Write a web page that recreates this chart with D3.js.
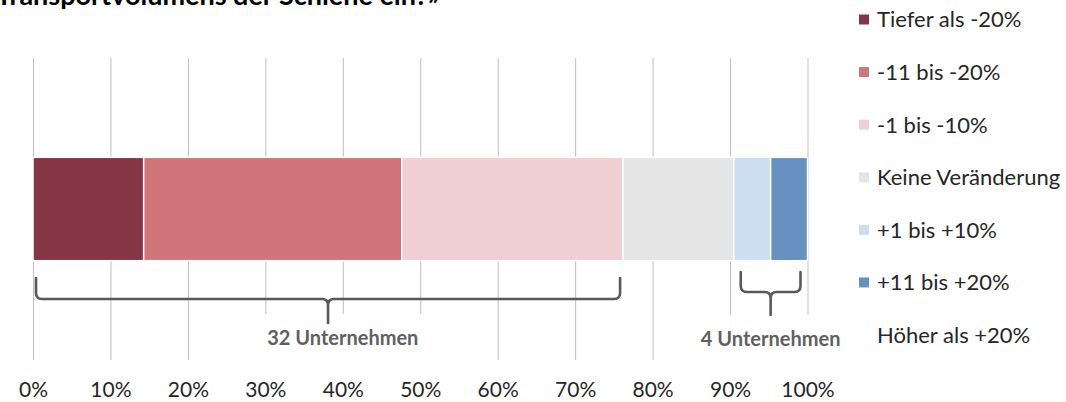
<!DOCTYPE html>
<html>
<head>
<meta charset="utf-8">
<script src="https://cdn.jsdelivr.net/npm/d3@7"></script>
<style>
  html, body { margin: 0; padding: 0; background: #fff; }
  svg { display: block; font-family: Lato, "Noto Sans", sans-serif; }
</style>
</head>
<body>
<svg id="chart" width="1066" height="402"></svg>
<script>
// Answer categories (legend order) and their share of respondents in %
const categories = ["Tiefer als -20%", "-11 bis -20%", "-1 bis -10%", "Keine Veränderung",
                    "+1 bis +10%", "+11 bis +20%", "Höher als +20%"];
const shares = [14.29, 33.33, 28.57, 14.29, 4.76, 4.76, 0];
const colors = ["#853645", "#D07579", "#F1D0D3", "#E5E5E5", "#CCDEF0", "#6691C0", "#FFFFFF"];
const tickValues = [0, 10, 20, 30, 40, 50, 60, 70, 80, 90, 100];
const tickLabels = ["0%", "10%", "20%", "30%", "40%", "50%", "60%", "70%", "80%", "90%", "100%"];
const titleLine = "Transportvolumens der Schiene ein?»";
// Brace annotations: first and last category index covered, label text
const groups = [
  { from: 0, to: 2, label: "32 Unternehmen" },
  { from: 4, to: 5, label: "4 Unternehmen" }
];

const svg = d3.select("#chart");
const plotTop = 58, plotBottom = 360;

const x = d3.scaleLinear().domain([0, 100]).range([33, 807.5]);
const y = d3.scaleBand().domain(["Schiene"]).range([plotTop, plotBottom]).padding(0.49);

// stacked segments
let acc = 0;
const segs = shares.map((v, i) => { const s = { i, x0: acc, x1: acc + v, v }; acc += v; return s; });

// title (last line of the question, runs off the top edge)
svg.append("text")
  .attr("x", 440).attr("y", 5)
  .attr("text-anchor", "end")
  .attr("font-weight", "bold")
  .attr("font-size", 27)
  .attr("fill", "#000")
  .text(titleLine);

// vertical gridlines + percentage labels
const axis = d3.axisBottom(x)
  .tickValues(tickValues)
  .tickFormat((d, i) => tickLabels[i])
  .tickSize(-(plotBottom - plotTop))
  .tickPadding(0);
const ax = svg.append("g")
  .attr("transform", `translate(0,${plotBottom})`)
  .call(axis);
ax.select(".domain").remove();
ax.selectAll(".tick line").attr("stroke", "#BFBFBF").attr("stroke-width", 1);
ax.selectAll(".tick text")
  .attr("y", 37).attr("dy", 0)
  .attr("fill", "#262626")
  .attr("font-size", 21)
  .attr("font-family", "Lato, sans-serif");

// labels of the braces, drawn on a white box that hides the grid below the brace tip
const braceGeom = [
  { inset: 3, yTop: 278, yMid: 299, yTip: 323, boxTop: 314, labelX: 40, labelY: 345 },
  { inset: 7, yTop: 272, yMid: 292, yTip: 315, boxTop: 315, labelX: null, labelY: 346 }
];
const annot = svg.append("g");
groups.forEach((g, k) => {
  const geo = braceGeom[k];
  const s0 = segs[g.from].x0, s1 = segs[g.to].x1;
  const lx = geo.labelX !== null ? x(geo.labelX) : x((s0 + s1) / 2);
  const box = annot.append("rect").attr("fill", "#fff");
  const t = annot.append("text")
    .attr("x", lx).attr("y", geo.labelY)
    .attr("text-anchor", "middle")
    .attr("font-weight", "bold")
    .attr("font-size", 20)
    .attr("fill", "#606060")
    .text(g.label);
  const bb = t.node().getBBox();
  box.attr("x", bb.x - 12).attr("y", geo.boxTop)
     .attr("width", bb.width + 24).attr("height", plotBottom + 2 - geo.boxTop);
  t.raise();
});

// bar
svg.append("g").selectAll("rect")
  .data(segs.filter(d => d.v > 0))
  .join("rect")
  .attr("x", d => x(d.x0))
  .attr("width", d => x(d.x1) - x(d.x0))
  .attr("y", y("Schiene"))
  .attr("height", y.bandwidth())
  .attr("fill", d => colors[d.i])
  .attr("stroke", "#fff")
  .attr("stroke-width", 1.5);

// curly braces under the grouped segments
function bracePath(xa, xb, yTop, yMid, yTip) {
  const r = 6, xm = (xa + xb) / 2;
  return `M${xa},${yTop} L${xa},${yMid - r} Q${xa},${yMid} ${xa + r},${yMid} ` +
         `L${xm - r},${yMid} Q${xm},${yMid} ${xm},${yMid + r} L${xm},${yTip} ` +
         `M${xm},${yMid + r} Q${xm},${yMid} ${xm + r},${yMid} ` +
         `L${xb - r},${yMid} Q${xb},${yMid} ${xb},${yMid - r} L${xb},${yTop}`;
}
groups.forEach((g, k) => {
  const geo = braceGeom[k];
  const xa = x(segs[g.from].x0) + geo.inset, xb = x(segs[g.to].x1) - geo.inset;
  svg.append("path")
    .attr("d", bracePath(xa, xb, geo.yTop, geo.yMid, geo.yTip))
    .attr("fill", "none")
    .attr("stroke", "#595959")
    .attr("stroke-width", 2.6)
    .attr("stroke-linecap", "round")
    .attr("stroke-linejoin", "round");
});

// legend
const ly = d3.scalePoint().domain(categories).range([19.5, 335]);
const leg = svg.append("g").selectAll("g")
  .data(categories)
  .join("g")
  .attr("transform", d => `translate(0,${ly(d)})`);
leg.append("rect")
  .attr("x", 859).attr("y", -5).attr("width", 10).attr("height", 10)
  .attr("fill", (d, i) => colors[i]);
leg.append("text")
  .attr("x", 877).attr("y", 0).attr("dy", "0.36em")
  .attr("font-size", 22)
  .attr("fill", "#262626")
  .text(d => d);
</script>
</body>
</html>
